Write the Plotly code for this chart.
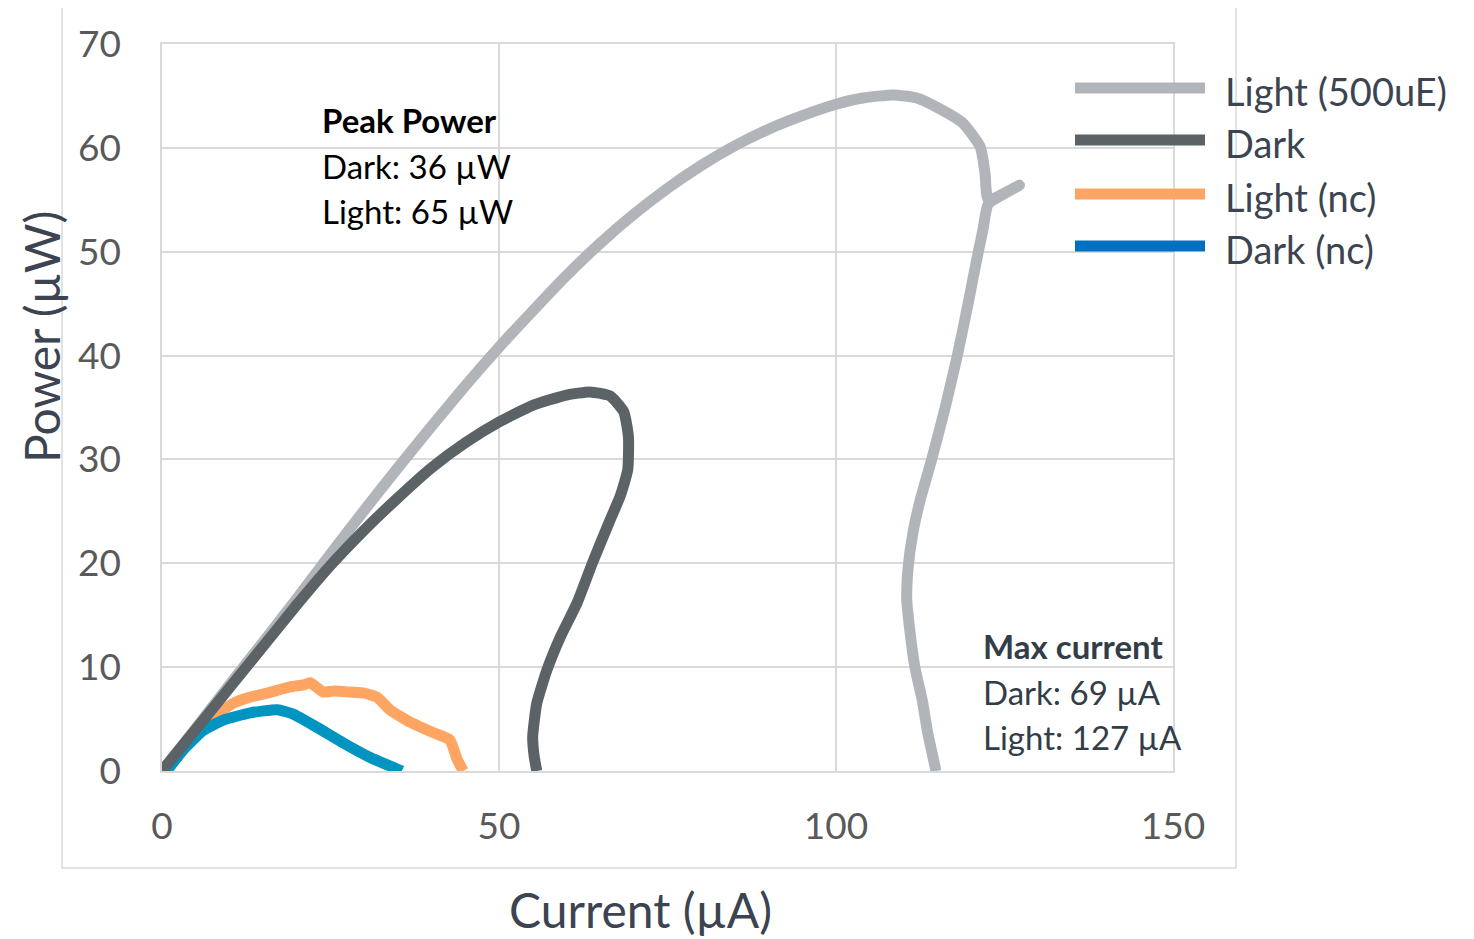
import plotly.graph_objects as go

# ---- data (current in µA, power in µW) ----
light_i = [0, 5, 10, 15, 20, 25, 30, 35, 40, 45, 50, 55, 60, 65, 70, 75, 80, 85, 90, 95, 100,
           104, 108.5, 112, 115, 118.8, 121.4, 122.1, 122.6, 127.2, 122.6, 121.8, 120.8, 119.6,
           118.0, 116.2, 114.2, 112.5, 111.4, 110.7, 110.5, 111.0, 111.7, 112.8, 113.6, 114.7, 114.8]
light_p = [0, 4.1, 8.3, 12.4, 16.6, 20.9, 25.1, 29.2, 33.2, 37.1, 40.8, 44.3, 47.7, 50.8, 53.6, 56.1,
           58.3, 60.2, 61.8, 63.1, 64.2, 64.8, 65.1, 64.8, 63.9, 62.4, 60.1, 57.6, 55.0, 56.4, 54.6,
           52.1, 49.0, 45, 40, 35, 30, 26.1, 22.9, 19.6, 16.5, 13.3, 10.0, 6.8, 3.7, 0.4, 0]

dark_i = [0, 5, 10, 15, 20, 25, 30, 35, 40, 45, 50, 55, 60, 63.5, 66.5, 68.5, 69.2, 69.1, 68.0,
          66.5, 63.9, 61.6, 59.1, 57.1, 55.6, 55.0, 55.2, 55.6]
dark_p = [0, 4, 8, 12, 16, 19.8, 23.2, 26.3, 29.2, 31.6, 33.6, 35.2, 36.2, 36.5, 36.1, 34.6, 32.2,
          29.0, 26.5, 24.2, 20.1, 16.2, 12.9, 9.7, 6.5, 3.3, 1.5, 0]

lnc_i = [0, 3, 6.7, 10.5, 13, 15.6, 19.0, 21, 22.0, 23.9, 25.5, 27.9, 30, 31.9, 33.8, 35.5, 36.8,
         38.5, 40.2, 42.7, 43.8, 44.7]
lnc_p = [0, 2.3, 4.7, 6.5, 7.1, 7.5, 8.1, 8.3, 8.5, 7.6, 7.7, 7.6, 7.5, 7.1, 5.9, 5.2, 4.7, 4.2,
         3.7, 3.0, 1.1, 0]

dnc_i = [0.7, 3.1, 6.1, 9.1, 13.1, 17.1, 19.4, 23.0, 26.9, 30.9, 35.6]
dnc_p = [0, 2.0, 3.9, 4.9, 5.6, 5.9, 5.5, 4.2, 2.7, 1.3, 0.0]

series_names = ["Light (500uE)", "Dark", "Light (nc)", "Dark (nc)"]
line_colors = ["#b1b5b9", "#5c6366", "#ffa563", "#0095c0"]
legend_colors = ["#b1b5b9", "#5c6366", "#ffa563", "#0070c0"]

x_ticks = [0, 50, 100, 150]
y_ticks = [0, 10, 20, 30, 40, 50, 60, 70]

FONT = "Lato"
OFF = 8  # page body margin

fig = go.Figure()
data = {
    "Light (500uE)": (light_i, light_p),
    "Dark": (dark_i, dark_p),
    "Light (nc)": (lnc_i, lnc_p),
    "Dark (nc)": (dnc_i, dnc_p),
}
draw_order = ["Light (500uE)", "Light (nc)", "Dark (nc)", "Dark"]
for name in draw_order:
    xs, ys = data[name]
    c = line_colors[series_names.index(name)]
    fig.add_trace(go.Scatter(x=xs, y=ys, mode="lines", name=name, showlegend=False,
                             line=dict(color=c, width=11, shape="spline", smoothing=0.5)))

grid = "#d9d9d9"
fig.update_xaxes(range=[0, 150], tickvals=x_ticks, showgrid=True, gridcolor=grid, gridwidth=1.5,
                 zeroline=False, showline=True, linecolor=grid, linewidth=1.5, mirror=True,
                 tickfont=dict(family=FONT, size=37, color="#595959"), ticks="",
                 ticklabelstandoff=22)
fig.update_yaxes(range=[0, 70], tickvals=y_ticks, showgrid=True, gridcolor=grid, gridwidth=1.5,
                 zeroline=False, showline=True, linecolor=grid, linewidth=1.5, mirror=True,
                 tickfont=dict(family=FONT, size=37, color="#595959"), ticks="",
                 ticklabelstandoff=32)

W, H = 1474 - OFF, 939 - OFF
L, R, T, B = 162 - OFF, 1173 - OFF, 44 - OFF, 771 - OFF
pw, ph = R - L, B - T


def px(xp):
    return (xp - OFF - L) / pw


def py(yp):
    return (B - (yp - OFF)) / ph


shapes = [dict(type="rect", xref="paper", yref="paper", x0=px(62), x1=px(1236), y0=py(868), y1=py(6),
               line=dict(color=grid, width=1.5), layer="below")]

annotations = []
# axis titles
annotations.append(dict(text="Current (µA)", xref="paper", yref="paper", x=px(640), y=py(909),
                        showarrow=False, font=dict(family=FONT, size=48, color="#3b4450"),
                        xanchor="center", yanchor="middle"))
annotations.append(dict(text="Power (µW)", xref="paper", yref="paper", x=px(42), y=py(337),
                        showarrow=False, font=dict(family=FONT, size=48, color="#3b4450"),
                        textangle=-90, xanchor="center", yanchor="middle"))

# legend (manual)
legend_rows = [88, 140, 194, 246]
for name, c, yr in zip(series_names, legend_colors, legend_rows):
    shapes.append(dict(type="line", xref="paper", yref="paper", x0=px(1075), x1=px(1205),
                       y0=py(yr), y1=py(yr), line=dict(color=c, width=11)))
    annotations.append(dict(text=name, xref="paper", yref="paper", x=px(1223), y=py(yr + 3),
                            showarrow=False, xanchor="left", yanchor="middle",
                            font=dict(family=FONT, size=38, color="#3b4450")))

# text boxes
peak_lines = [("<b>Peak Power</b>", 120), ("Dark: 36 µW", 166), ("Light: 65 µW", 211)]
for t, yy in peak_lines:
    annotations.append(dict(text=t, xref="paper", yref="paper", x=px(320), y=py(yy), showarrow=False,
                            xanchor="left", yanchor="middle", font=dict(family=FONT, size=33, color="#000000")))
max_lines = [("<b>Max current</b>", 646), ("Dark: 69 µA", 692), ("Light: 127 µA", 737)]
for t, yy in max_lines:
    annotations.append(dict(text=t, xref="paper", yref="paper", x=px(981), y=py(yy), showarrow=False,
                            xanchor="left", yanchor="middle", font=dict(family=FONT, size=33, color="#333d47")))

fig.update_layout(width=W, height=H, margin=dict(l=L, r=W - R, t=T, b=H - B, autoexpand=False),
                  plot_bgcolor="white", paper_bgcolor="white", showlegend=False,
                  shapes=shapes, annotations=annotations)

fig.write_html("out.html")
